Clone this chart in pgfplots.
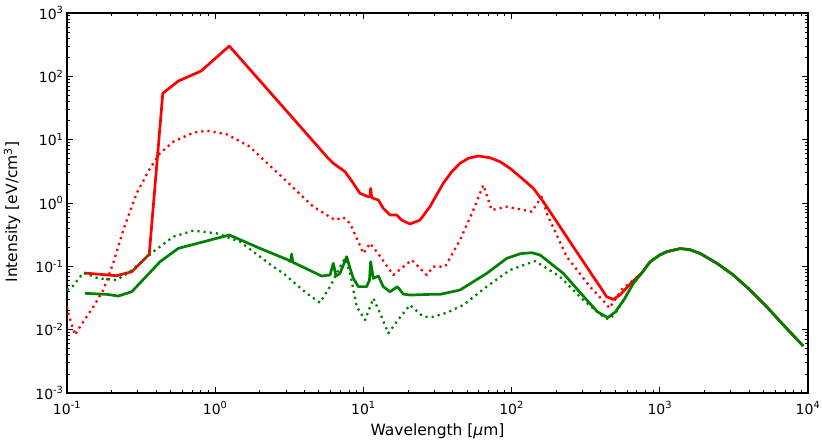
\documentclass[border=0pt]{standalone}
\usepackage{fontspec}
\setmainfont{DejaVu Sans}
\usepackage{pgfplots}
\pgfplotsset{compat=1.18}
\definecolor{mplred}{rgb}{1,0,0}
\definecolor{mplgreen}{rgb}{0,0.5,0}
\newcommand\tl[1]{10\textsuperscript{#1}}
\begin{document}
\begin{tikzpicture}[font=\fontsize{15.5bp}{18bp}\selectfont]
\begin{axis}[
  xmode=log, ymode=log,
  scale only axis, width=741bp, height=380bp,
  xmin=0.1, xmax=10000, ymin=0.001, ymax=1000,
  xtick={0.1,1,10,100,1000,10000},
  xticklabels={\tl{-1},\tl{0},\tl{1},\tl{2},\tl{3},\tl{4}},
  ytick={0.001,0.01,0.1,1,10,100,1000},
  yticklabels={\tl{-3},\tl{-2},\tl{-1},\tl{0},\tl{1},\tl{2},\tl{3}},
  minor xtick={0.2,0.3,0.4,0.5,0.6,0.7,0.8,0.9,2,3,4,5,6,7,8,9,20,30,40,50,60,70,80,90,200,300,400,500,600,700,800,900,2000,3000,4000,5000,6000,7000,8000,9000},
  minor ytick={0.002,0.003,0.004,0.005,0.006,0.007,0.008,0.009,0.02,0.03,0.04,0.05,0.06,0.07,0.08,0.09,0.2,0.3,0.4,0.5,0.6,0.7,0.8,0.9,2,3,4,5,6,7,8,9,20,30,40,50,60,70,80,90,200,300,400,500,600,700,800,900},
  major tick length=6bp, minor tick length=3.5bp,
  tick style={black, line width=0.8bp},
  axis line style={line width=1.1bp},
  tick align=inside,
  xtick pos=both, ytick pos=both,
  tick label style={font=\fontsize{14bp}{16bp}\selectfont},
  xticklabel style={anchor=base, yshift=-21bp},
  xlabel={Wavelength [{\itshape μ}m]},
  ylabel={Intensity [eV/cm\textsuperscript{3}]},
  every axis x label/.style={at={(axis description cs:0.5,0)}, anchor=base, yshift=-42bp},
  every axis y label/.style={at={(axis description cs:-0.0742,0.476)}, anchor=center, rotate=90},
  clip=true,
  every axis plot/.append style={line join=round},
]
% red solid
\addplot[mplred, line width=2.7bp] coordinates {
(0.1303,0.0785) (0.2163,0.0711) (0.2735,0.0822) (0.359,0.155)
(0.443,54.0) (0.564,84.3) (0.802,121) (1.245,301)
(5.79,5.08) (6.266,4.236) (7.516,3.119) (8.551,2.046) (9.484,1.422)
(10.79,1.256) (11.09,1.259) (11.19,1.706) (11.38,1.230) (11.67,1.186) (12.62,1.114)
(13.61,0.824) (15.14,0.646) (16.79,0.646) (18.11,0.538) (20.61,0.466) (24.10,0.538)
(28.12,0.875) (31.19,1.337) (34.59,2.046) (39.45,3.119) (44.87,4.236) (51.05,5.082)
(59.57,5.521) (71.45,5.188) (83.56,4.487) (97.50,3.532) (114.0,2.600) (140.3,1.706)
(163.7,1.047) (191.4,0.608) (223.4,0.352) (260.6,0.204) (304.8,0.1183)
(355.6,0.0686) (395.5,0.0478) (437.5,0.0331)
(485.3,0.0301) (538.3,0.0352) (631.0,0.0525)
(758.6,0.0794) (859.0,0.1175) (1000,0.1514) (1112,0.1698) (1368,0.1905)
(1585,0.1841) (1866,0.1603) (2421,0.1122) (3133,0.0730) (4064,0.0423)
(5260,0.0231) (6823,0.01186) (9290,0.00552)
};
% red dotted
\addplot[mplred, line width=2.3bp, dash pattern=on 2.2bp off 4bp] coordinates {
(0.1,0.0231) (0.1023,0.0178) (0.1132,0.00824) (0.1225,0.01114) (0.1507,0.0231)
(0.1758,0.0423) (0.2051,0.1117) (0.2399,0.375) (0.2951,1.422) (0.3631,3.532)
(0.4246,6.095) (0.5212,9.29) (0.7112,12.88) (0.877,13.84) (1.197,12.16)
(1.718,7.745) (1.905,6.095) (2.884,2.455) (4.592,0.875) (6.427,0.538)
(7.311,0.594) (8.128,0.478) (10.0,0.1603) (11.09,0.2307) (12.30,0.1702)
(15.92,0.0730) (21.18,0.1259) (26.73,0.0730) (29.65,0.0989) (35.56,0.0989)
(44.87,0.2606) (55.21,0.7745) (64.42,1.923) (73.45,0.7745) (92.68,0.875)
(136.8,0.730) (159.6,1.259) (172.6,0.687) (235.5,0.1419) (338.1,0.0478)
(437.5,0.0251) (457.1,0.0219) (564.9,0.0455) (631.0,0.0550)
(758.6,0.0794) (859.0,0.1175) (1000,0.1514) (1112,0.1698) (1368,0.1905)
(1585,0.1841) (1866,0.1603) (2421,0.1122) (3133,0.0730) (4064,0.0423)
(5260,0.0231) (6823,0.01186) (9290,0.00552)
};
% green solid
\addplot[mplgreen, line width=2.7bp] coordinates {
(0.1321,0.0375) (0.1854,0.0361) (0.2218,0.0340) (0.2735,0.0397) (0.4246,0.1183)
(0.5636,0.1923) (0.7889,0.236) (1.245,0.3126) (2.004,0.1923) (3.112,0.1259)
(3.236,0.1189) (3.281,0.1563) (3.342,0.1161) (5.224,0.0703) (5.957,0.0730)
(6.266,0.1117) (6.531,0.0703) (6.950,0.0774) (7.709,0.1419) (8.128,0.0931)
(8.551,0.0646) (9.247,0.0478) (10.52,0.0478) (10.99,0.0603) (11.19,0.1183)
(11.67,0.0646) (12.62,0.0703) (13.61,0.0478) (15.14,0.0397) (16.94,0.0478)
(18.58,0.0366) (20.61,0.0352) (28.12,0.0361)
(32.89,0.0361) (44.87,0.0423) (67.92,0.0774) (92.68,0.1337) (114.8,0.1585)
(136.8,0.1641) (155.6,0.1510) (223.4,0.0774) (321.4,0.0294) (380.2,0.0191)
(446.7,0.0155) (501.2,0.0191) (575.4,0.0302) (662.2,0.0537)
(758.6,0.0794) (859.0,0.1175) (1000,0.1514) (1112,0.1698) (1368,0.1905)
(1585,0.1841) (1866,0.1603) (2421,0.1122) (3133,0.0730) (4064,0.0423)
(5260,0.0231) (6823,0.01186) (9290,0.00552)
};
% green dotted
\addplot[mplgreen, line width=2.3bp, dash pattern=on 2.2bp off 4bp] coordinates {
(0.1,0.0423) (0.1081,0.0468) (0.1288,0.0794) (0.1626,0.0646) (0.2163,0.0608)
(0.2661,0.0822) (0.3819,0.1702) (0.5212,0.2938) (0.7112,0.3656) (1.023,0.3319)
(1.469,0.2449) (2.466,0.0986) (2.884,0.0774) (4.140,0.0375) (5.093,0.0267)
(5.957,0.0478) (6.776,0.0875) (7.516,0.1337) (8.128,0.0774) (9.016,0.0231)
(10.26,0.0142) (11.67,0.0313) (13.27,0.0160) (14.72,0.00875) (16.79,0.0134)
(20.61,0.0245) (25.35,0.0160) (29.65,0.0160) (36.48,0.0185) (47.21,0.0245)
(67.92,0.0478) (97.50,0.0875) (143.9,0.1213) (212.3,0.0686) (304.8,0.0294)
(427.6,0.0151) (457.1,0.0148) (501.2,0.0182) (575.4,0.0302) (662.2,0.0537)
(758.6,0.0794) (859.0,0.1175) (1000,0.1514) (1112,0.1698) (1368,0.1905)
(1585,0.1841) (1866,0.1603) (2421,0.1122) (3133,0.0730) (4064,0.0423)
(5260,0.0231) (6823,0.01186) (9290,0.00552)
};
\end{axis}
\pgfresetboundingbox
\path[use as bounding box] (-67bp,-47bp) rectangle (755bp,393bp);
\end{tikzpicture}
\end{document}
